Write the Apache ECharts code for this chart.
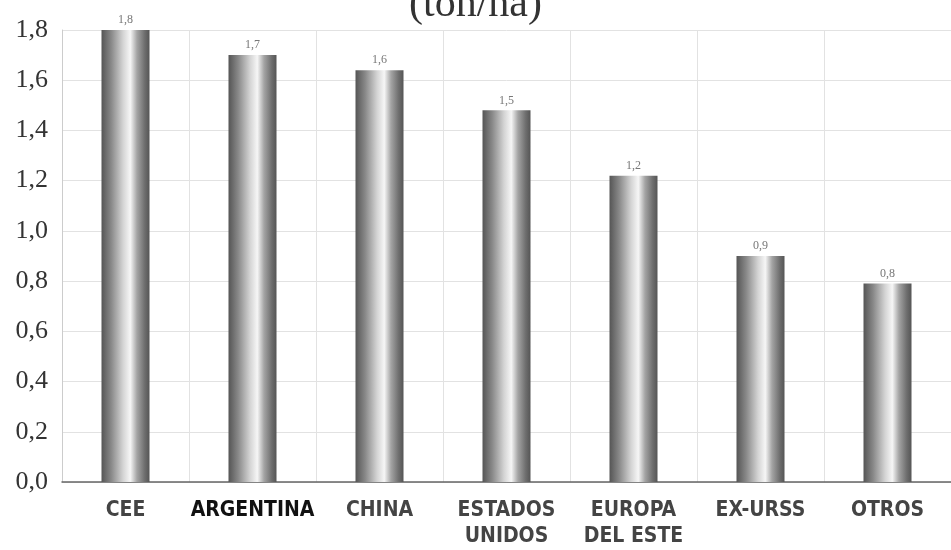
<!DOCTYPE html>
<html><head><meta charset="utf-8">
<script src="https://cdn.jsdelivr.net/npm/echarts@6/dist/echarts.min.js"></script>
<style>html,body{margin:0;padding:0;background:#fff}#c{width:951px;height:550px}</style>
</head><body><div id="c"></div>
<script>
var categories = ['CEE', 'ARGENTINA', 'CHINA', 'ESTADOS\nUNIDOS', 'EUROPA\nDEL ESTE', 'EX-URSS', 'OTROS'];
var values = [1.8, 1.7, 1.64, 1.48, 1.22, 0.9, 0.79];
var valueLabels = ['1,8', '1,7', '1,6', '1,5', '1,2', '0,9', '0,8'];
var yTicks = [0, 0.2, 0.4, 0.6, 0.8, 1.0, 1.2, 1.4, 1.6, 1.8];

var chart = echarts.init(document.getElementById('c'));
var barGrad = new echarts.graphic.LinearGradient(0, 0, 1, 0, [
  {offset: 0, color: '#555'},
  {offset: 0.2, color: '#888'},
  {offset: 0.45, color: '#d4d4d4'},
  {offset: 0.6, color: '#f6f6f6'},
  {offset: 0.74, color: '#a4a4a4'},
  {offset: 0.9, color: '#6e6e6e'},
  {offset: 1, color: '#555'}
]);
var lblFont = 'DejaVu Sans Condensed, sans-serif';
chart.setOption({
  backgroundColor: '#fff',
  animation: false,
  title: {
    text: '(ton/ha)', left: 'center', top: -16, padding: 0,
    textStyle: {fontFamily: 'Liberation Serif', fontWeight: 'normal', fontSize: 42, color: '#333'}
  },
  grid: {left: 62, right: 0, top: 30, bottom: 66},
  xAxis: {
    type: 'category', data: categories,
    axisLine: {lineStyle: {color: '#666', width: 1.5}},
    axisTick: {show: false},
    splitLine: {show: true, lineStyle: {color: '#e2e2e2'}},
    axisLabel: {
      interval: 0, margin: 16, lineHeight: 26,
      fontFamily: lblFont, fontWeight: 'bold', fontSize: 21, color: '#444',
      formatter: function (v) { return v === 'ARGENTINA' ? '{b|' + v + '}' : v; },
      rich: {b: {fontFamily: lblFont, fontWeight: 'bold', fontSize: 21, color: '#111'}}
    }
  },
  yAxis: {
    type: 'value', min: 0, max: 1.8, interval: 0.2,
    axisLine: {show: true, lineStyle: {color: '#ccc'}},
    axisTick: {show: false},
    splitLine: {lineStyle: {color: '#e2e2e2'}},
    axisLabel: {
      margin: 14, fontFamily: 'Liberation Serif', fontSize: 26, color: '#333',
      formatter: function (v) { return v.toFixed(1).replace('.', ','); }
    }
  },
  series: [{
    type: 'bar', data: values, barWidth: 48,
    itemStyle: {color: barGrad},
    label: {
      show: true, position: 'top', distance: 4,
      fontFamily: 'Liberation Serif', fontSize: 12, color: '#777',
      formatter: function (p) { return valueLabels[p.dataIndex]; }
    }
  }]
});
</script></body></html>
